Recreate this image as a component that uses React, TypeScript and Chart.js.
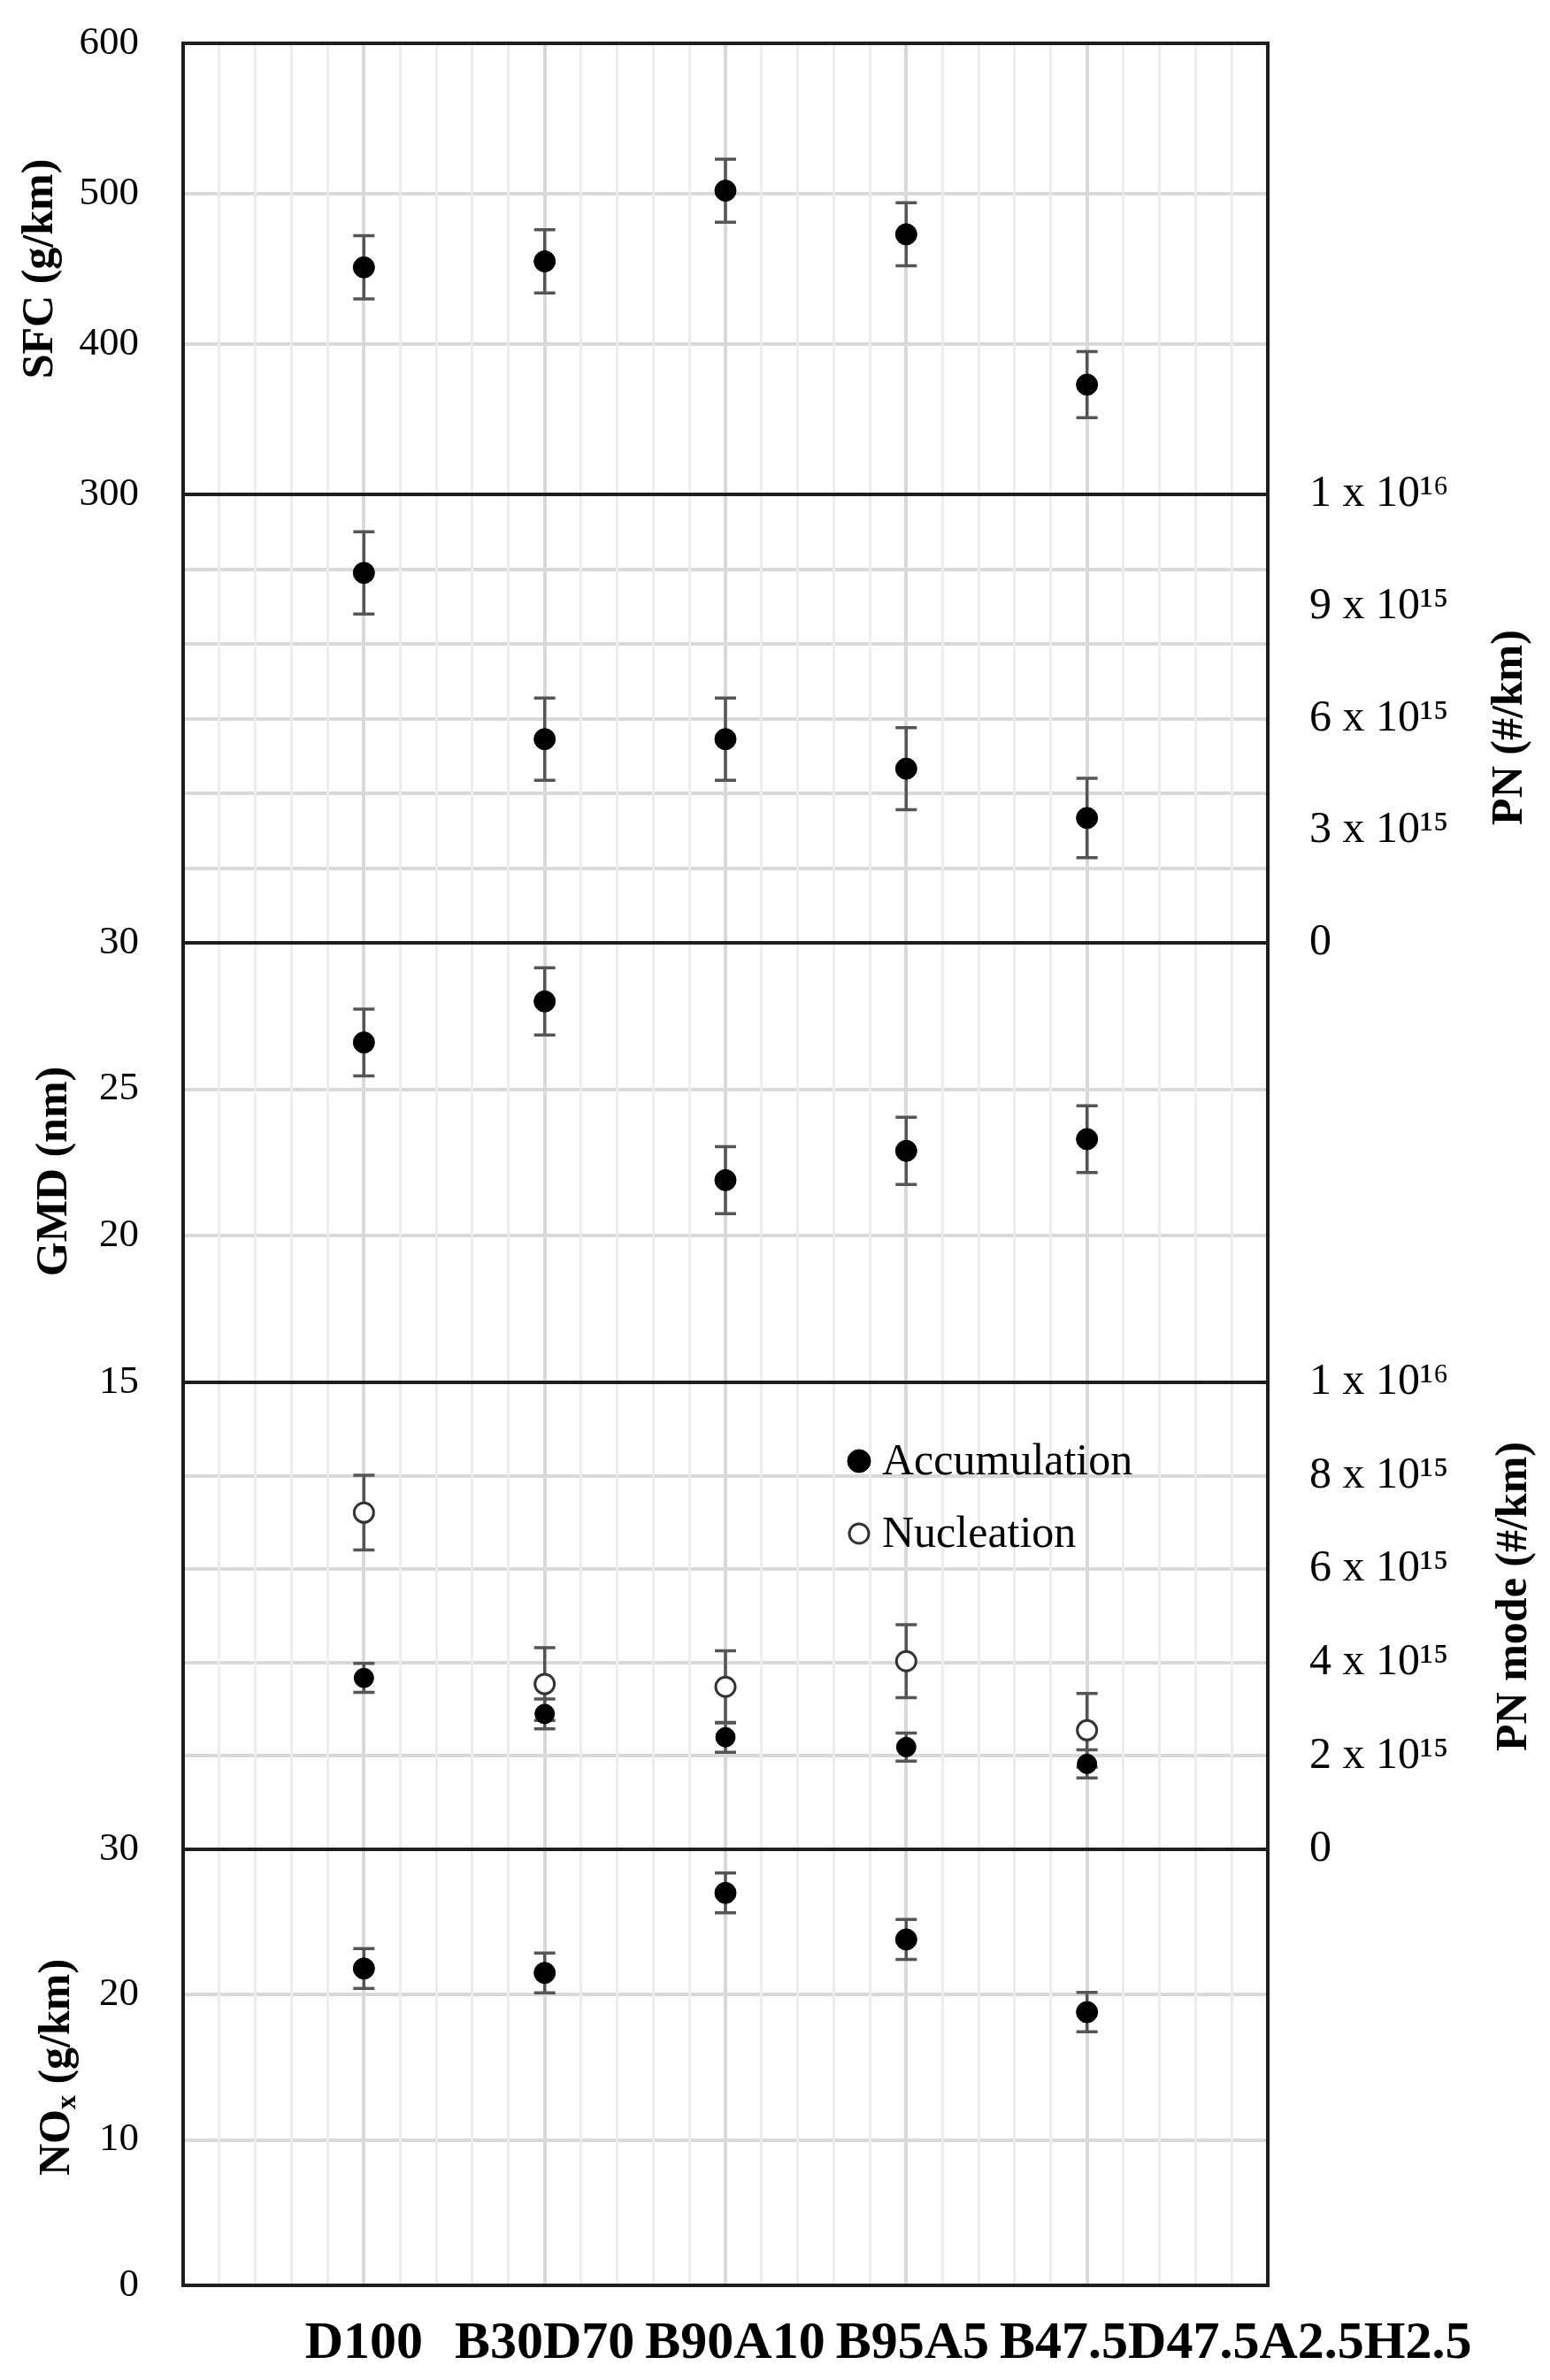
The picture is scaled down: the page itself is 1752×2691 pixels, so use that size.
import React, { useEffect, useRef } from 'react';
import { Chart, registerables } from 'chart.js';

Chart.register(...registerables);

// ---------------- data ----------------
const CATEGORIES = ['D100', 'B30D70', 'B90A10', 'B95A5', 'B47.5D47.5A2.5H2.5'];

const SFC = [451, 455, 502, 473, 373];
const SFC_ERR = [21, 21, 21, 21, 22];

const PN = [9.9e15, 5.45e15, 5.45e15, 4.66e15, 3.34e15];
const PN_ERR = [1.1e15, 1.1e15, 1.1e15, 1.1e15, 1.06e15];

const GMD = [26.6, 28.0, 21.9, 22.9, 23.3];
const GMD_ERR = [1.14, 1.15, 1.14, 1.15, 1.14];

const ACCUMULATION = [3.67e15, 2.9e15, 2.4e15, 2.19e15, 1.83e15];
const ACCUMULATION_ERR = [0.31e15, 0.32e15, 0.32e15, 0.3e15, 0.3e15];

const NUCLEATION = [7.21e15, 3.54e15, 3.48e15, 4.03e15, 2.55e15];
const NUCLEATION_ERR = [0.8e15, 0.78e15, 0.77e15, 0.78e15, 0.79e15];

const NOX = [21.8, 21.5, 27.0, 23.8, 18.8];
const NOX_ERR = [1.37, 1.37, 1.37, 1.37, 1.35];

const SFC_TICKS = [300, 400, 500, 600];
const GMD_TICKS = [15, 20, 25, 30];
const NOX_TICKS = [0, 10, 20, 30];

const PN_TICKS = [0, 3e15, 6e15, 9e15, 1.2e16];
const PN_TICK_LABELS = ['0', '3 x 10¹⁵', '6 x 10¹⁵', '9 x 10¹⁵', '1 x 10¹⁶'];
const PN_GRID = [2e15, 4e15, 6e15, 8e15, 1e16];

const PNM_TICKS = [0, 2e15, 4e15, 6e15, 8e15, 1e16];
const PNM_TICK_LABELS = ['0', '2 x 10¹⁵', '4 x 10¹⁵', '6 x 10¹⁵', '8 x 10¹⁵', '1 x 10¹⁶'];
const PNM_GRID = [2e15, 4e15, 6e15, 8e15];

const SERIES_LABELS = ['SFC', 'PN', 'GMD', 'Accumulation', 'Nucleation', 'NOx'];

// ---------------- styles / layout ----------------
const W = 1752;
const H = 2691;
const SERIF = '"Liberation Serif", "Times New Roman", serif';
const LEFT_W = 207;
const RIGHT_W = 319;
const TOP_PAD = 49;
const BOTTOM_H = 107;
const PANEL_WEIGHTS = [510, 507, 497, 528, 493];
const GRID_COLOR = '#d9d9d9';
const MINOR_GRID = '#ededed';
const FRAME_COLOR = '#1e1e1e';
const ERR_COLOR = '#555555';
const CAP_HALF = 12;

const near = (a: number, b: number) => Math.abs(a - b) <= Math.max(Math.abs(a), Math.abs(b)) * 1e-9 + 1e-12;

const pts = (vals: number[]) => vals.map((v, i) => ({ x: i + 1, y: v }));

function leftScale(min: number, max: number, tickVals: number[], showLabels: boolean, weight: number, stackWeight: number) {
  return {
    type: 'linear',
    position: 'left',
    stack: 'L',
    stackWeight,
    weight,
    min,
    max,
    afterBuildTicks: (s: any) => {
      s.ticks = tickVals.map((v) => ({ value: v }));
    },
    afterFit: (s: any) => {
      s.width = LEFT_W;
      s.paddingTop = 0;
      s.paddingBottom = 0;
    },
    ticks: {
      display: showLabels,
      autoSkip: false,
      padding: 50,
      color: '#000',
      font: { family: SERIF, size: 45 },
      callback: (v: number) => String(v),
    },
    grid: {
      drawTicks: false,
      lineWidth: 4,
      color: (ctx: any) => {
        const v = ctx.tick ? ctx.tick.value : NaN;
        if (!showLabels || near(v, min) || near(v, max)) return 'rgba(0,0,0,0)';
        return GRID_COLOR;
      },
    },
    border: { display: false },
  };
}

function rightScale(
  min: number,
  max: number,
  labelVals: number[],
  labels: string[],
  gridVals: number[],
  weight: number,
  stackWeight: number
) {
  const all = Array.from(new Set([...labelVals, ...gridVals])).sort((a, b) => a - b);
  return {
    type: 'linear',
    position: 'right',
    stack: 'R',
    stackWeight,
    weight,
    min,
    max,
    afterBuildTicks: (s: any) => {
      s.ticks = all.map((v) => ({ value: v }));
    },
    afterFit: (s: any) => {
      s.width = RIGHT_W;
      s.paddingTop = 0;
      s.paddingBottom = 0;
    },
    ticks: {
      display: true,
      autoSkip: false,
      padding: 47,
      color: '#000',
      font: { family: SERIF, size: 50 },
      callback: (v: number) => {
        const idx = labelVals.findIndex((t) => near(t, v));
        return idx >= 0 ? labels[idx] : '';
      },
    },
    grid: {
      drawTicks: false,
      lineWidth: 4,
      color: (ctx: any) => {
        const v = ctx.tick ? ctx.tick.value : NaN;
        return gridVals.some((g) => near(g, v)) ? GRID_COLOR : 'rgba(0,0,0,0)';
      },
    },
    border: { display: false },
  };
}

// ---------------- plugins ----------------
const framePlugin = {
  id: 'frameAndErrors',
  beforeDatasetsDraw(chart: any) {
    const { ctx, chartArea } = chart;
    // error bars
    chart.data.datasets.forEach((ds: any, di: number) => {
      if (!ds.errors) return;
      const meta = chart.getDatasetMeta(di);
      const ys = chart.scales[ds.yAxisID];
      ctx.save();
      ctx.strokeStyle = ERR_COLOR;
      ctx.lineWidth = 3.5;
      meta.data.forEach((pt: any, i: number) => {
        const v = ds.data[i].y;
        const e = ds.errors[i];
        const x = pt.x;
        const yt = ys.getPixelForValue(v + e);
        const yb = ys.getPixelForValue(v - e);
        ctx.beginPath();
        ctx.moveTo(x, yt);
        ctx.lineTo(x, yb);
        ctx.moveTo(x - CAP_HALF, yt);
        ctx.lineTo(x + CAP_HALF, yt);
        ctx.moveTo(x - CAP_HALF, yb);
        ctx.lineTo(x + CAP_HALF, yb);
        ctx.stroke();
      });
      ctx.restore();
    });
    // frame + panel separators
    ctx.save();
    ctx.strokeStyle = FRAME_COLOR;
    ctx.lineWidth = 4;
    ctx.strokeRect(chartArea.left, chartArea.top, chartArea.right - chartArea.left, chartArea.bottom - chartArea.top);
    ['ySFC', 'yPNL', 'yGMD', 'yPNML'].forEach((id) => {
      const y = Math.round(chart.scales[id].bottom);
      ctx.beginPath();
      ctx.moveTo(chartArea.left, y);
      ctx.lineTo(chartArea.right, y);
      ctx.stroke();
    });
    ctx.restore();
  },
};

type Part = [string, 'n' | 'sub'];
const AXIS_TITLES: { scale: string; x: number; dy: number; parts: Part[] }[] = [
  { scale: 'ySFC', x: 46, dy: 0, parts: [['SFC (g/km)', 'n']] },
  { scale: 'yGMD', x: 62, dy: 10, parts: [['GMD (nm)', 'n']] },
  { scale: 'yNOX', x: 65, dy: 0, parts: [['NO', 'n'], ['x', 'sub'], [' (g/km)', 'n']] },
  { scale: 'yPN', x: 1707, dy: 10, parts: [['PN (#/km)', 'n']] },
  { scale: 'yPNM', x: 1712, dy: -22, parts: [['PN mode (#/km)', 'n']] },
];

const titlesPlugin = {
  id: 'titles',
  afterDraw(chart: any) {
    const { ctx } = chart;
    const mainFont = `bold 50px ${SERIF}`;
    const subFont = `bold 32px ${SERIF}`;
    AXIS_TITLES.forEach((t) => {
      const s = chart.scales[t.scale];
      const cy = (s.top + s.bottom) / 2 + t.dy;
      ctx.save();
      ctx.fillStyle = '#000';
      ctx.textBaseline = 'middle';
      ctx.textAlign = 'left';
      let total = 0;
      t.parts.forEach(([txt, kind]) => {
        ctx.font = kind === 'sub' ? subFont : mainFont;
        total += ctx.measureText(txt).width;
      });
      ctx.translate(t.x, cy);
      ctx.rotate(-Math.PI / 2);
      let pos = -total / 2;
      t.parts.forEach(([txt, kind]) => {
        ctx.font = kind === 'sub' ? subFont : mainFont;
        ctx.fillText(txt, pos, kind === 'sub' ? 12 : 0);
        pos += ctx.measureText(txt).width;
      });
      ctx.restore();
    });

    // category labels along the bottom (flowing, no overlaps)
    const xs = chart.scales.x;
    ctx.save();
    ctx.font = `bold 60px ${SERIF}`;
    ctx.fillStyle = '#000';
    ctx.textBaseline = 'middle';
    ctx.textAlign = 'left';
    const yText = xs.top + 66;
    let prevEnd = -Infinity;
    CATEGORIES.forEach((c, i) => {
      const w = ctx.measureText(c).width;
      let start = xs.getPixelForValue(i + 1) - w / 2;
      if (start < prevEnd + 12) start = prevEnd + 12;
      ctx.fillText(c, start, yText);
      prevEnd = start + w;
    });
    ctx.restore();

    // legend for the PN-mode panel
    const pm = chart.scales.yPNM;
    const legendItems = [3, 4];
    ctx.save();
    legendItems.forEach((di, k) => {
      const ds = chart.data.datasets[di];
      const cx = chart.chartArea.left + 764;
      const cy = pm.top + 89 + k * 82;
      ctx.beginPath();
      ctx.arc(cx, cy, di === 3 ? 13 : 11, 0, Math.PI * 2);
      ctx.fillStyle = ds.backgroundColor;
      ctx.fill();
      ctx.lineWidth = ds.borderWidth;
      ctx.strokeStyle = ds.borderColor;
      ctx.stroke();
      ctx.fillStyle = '#000';
      ctx.font = `50px ${SERIF}`;
      ctx.textBaseline = 'middle';
      ctx.textAlign = 'left';
      ctx.fillText(ds.label, cx + 26, cy + 2);
    });
    ctx.restore();
  },
};

// ---------------- component ----------------
export default function App() {
  const ref = useRef<HTMLCanvasElement>(null);

  useEffect(() => {
    if (!ref.current) return;
    const filled = { pointRadius: 12, backgroundColor: '#000', borderColor: '#000', borderWidth: 1 };
    const open = { pointRadius: 11, backgroundColor: '#fff', borderColor: '#333', borderWidth: 3 };

    const chart = new Chart(ref.current, {
      type: 'scatter',
      data: {
        datasets: [
          { label: SERIES_LABELS[0], data: pts(SFC), errors: SFC_ERR, yAxisID: 'ySFC', ...filled },
          { label: SERIES_LABELS[1], data: pts(PN), errors: PN_ERR, yAxisID: 'yPN', ...filled },
          { label: SERIES_LABELS[2], data: pts(GMD), errors: GMD_ERR, yAxisID: 'yGMD', ...filled },
          { label: SERIES_LABELS[3], data: pts(ACCUMULATION), errors: ACCUMULATION_ERR, yAxisID: 'yPNM', ...filled, pointRadius: 11 },
          { label: SERIES_LABELS[4], data: pts(NUCLEATION), errors: NUCLEATION_ERR, yAxisID: 'yPNM', ...open },
          { label: SERIES_LABELS[5], data: pts(NOX), errors: NOX_ERR, yAxisID: 'yNOX', ...filled },
        ] as any,
      },
      options: {
        animation: false,
        responsive: false,
        events: [],
        layout: { padding: { top: TOP_PAD, left: 0, right: 0, bottom: 0 } },
        plugins: { legend: { display: false }, tooltip: { enabled: false }, title: { display: false } },
        scales: {
          ySFC: leftScale(300, 600, SFC_TICKS, true, 5, PANEL_WEIGHTS[0]),
          yPNL: leftScale(0, 1, [0, 1], false, 4, PANEL_WEIGHTS[1]),
          yGMD: leftScale(15, 30, GMD_TICKS, true, 3, PANEL_WEIGHTS[2]),
          yPNML: leftScale(0, 1, [0, 1], false, 2, PANEL_WEIGHTS[3]),
          yNOX: leftScale(0, 30, NOX_TICKS, true, 1, PANEL_WEIGHTS[4]),
          rSFC: rightScale(0, 1, [], [], [], 1, PANEL_WEIGHTS[0]),
          yPN: rightScale(0, 1.2e16, PN_TICKS, PN_TICK_LABELS, PN_GRID, 2, PANEL_WEIGHTS[1]),
          rGMD: rightScale(0, 1, [], [], [], 3, PANEL_WEIGHTS[2]),
          yPNM: rightScale(0, 1e16, PNM_TICKS, PNM_TICK_LABELS, PNM_GRID, 4, PANEL_WEIGHTS[3]),
          rNOX: rightScale(0, 1, [], [], [], 5, PANEL_WEIGHTS[4]),
          x: {
            type: 'linear',
            position: 'bottom',
            min: 0,
            max: CATEGORIES.length + 1,
            afterBuildTicks: (s: any) => {
              const n = (CATEGORIES.length + 1) * 5;
              s.ticks = Array.from({ length: n + 1 }, (_, i) => ({ value: i / 5 }));
            },
            afterFit: (s: any) => {
              s.height = BOTTOM_H;
              s.paddingLeft = 0;
              s.paddingRight = 0;
            },
            ticks: { display: false },
            grid: {
              drawTicks: false,
              lineWidth: (ctx: any) => {
                const v = ctx.tick ? ctx.tick.value : 0;
                return near(v, Math.round(v)) ? 4 : 3;
              },
              color: (ctx: any) => {
                const v = ctx.tick ? ctx.tick.value : 0;
                if (near(v, 0) || near(v, CATEGORIES.length + 1)) return 'rgba(0,0,0,0)';
                return near(v, Math.round(v)) ? GRID_COLOR : MINOR_GRID;
              },
            },
            border: { display: false },
          },
        } as any,
      },
      plugins: [framePlugin, titlesPlugin],
    } as any);

    return () => chart.destroy();
  }, []);

  return (
    <div style={{ position: 'absolute', left: 0, top: 0, width: W, height: H, background: '#fff' }}>
      <canvas ref={ref} width={W} height={H} style={{ display: 'block', width: W, height: H }} />
    </div>
  );
}
